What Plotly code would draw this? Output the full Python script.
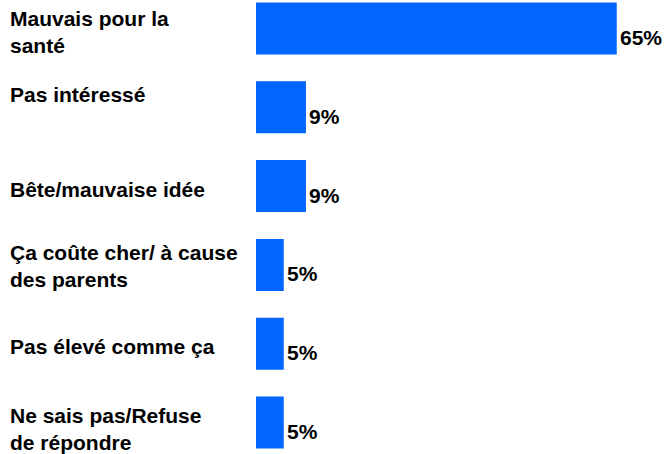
import plotly.graph_objects as go

categories = [
    "Mauvais pour la<br>santé",
    "Pas intéressé",
    "Bête/mauvaise idée",
    "Ça coûte cher/ à cause<br>des parents",
    "Pas élevé comme ça",
    "Ne sais pas/Refuse<br>de répondre",
]
values = [65, 9, 9, 5, 5, 5]
value_labels = ["65%", "9%", "9%", "5%", "5%", "5%"]

# fine vertical nudges of the category labels (pixels, positive = up)
label_yshift = [-3, 13, -3, -1, -3, -7]

W, H = 667, 454
L = 256
plot_w = W - L
positions = list(range(len(categories)))

fig = go.Figure()
fig.add_trace(go.Bar(
    x=values, y=positions, orientation="h",
    marker=dict(color="#0066FF", line=dict(width=0)),
    width=0.66, hoverinfo="skip",
))

font = dict(family="Liberation Sans, Arial, sans-serif", size=21, color="#000000")
annotations = []
for p, cat, v, lab, ys in zip(positions, categories, values, value_labels, label_yshift):
    annotations.append(dict(
        x=(8 - L) / plot_w, xref="paper", y=p, yref="y",
        text="<b>" + cat + "</b>", showarrow=False,
        xanchor="left", yanchor="middle", align="left", font=font, yshift=ys,
    ))
    annotations.append(dict(
        x=v, xref="x", y=p, yref="y",
        text="<b>" + lab + "</b>", showarrow=False,
        xanchor="left", yanchor="middle", xshift=1, yshift=-9, font=font,
    ))

fig.update_layout(
    width=W, height=H,
    margin=dict(l=L, r=0, t=0, b=0),
    paper_bgcolor="white", plot_bgcolor="white",
    showlegend=False,
    xaxis=dict(range=[0, plot_w / 5.55], visible=False, fixedrange=True),
    yaxis=dict(range=[5.40, -0.362], visible=False, fixedrange=True),
    annotations=annotations,
)

fig.write_html("out.html", config={"displayModeBar": False},
               post_script="document.body.style.margin='0';")
